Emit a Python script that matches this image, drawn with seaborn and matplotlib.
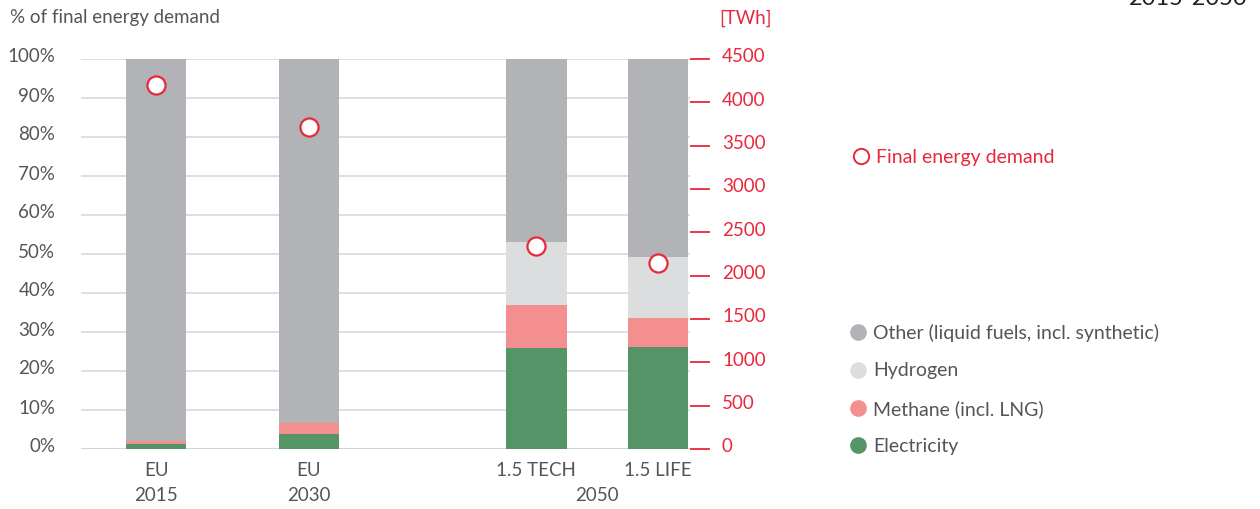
import matplotlib
matplotlib.use("Agg")
import matplotlib.pyplot as plt
import matplotlib.transforms as mtransforms
from matplotlib.lines import Line2D
import seaborn as sns
import pandas as pd
import numpy as np

# ---- data ----
scenarios = ["EU\n2015", "EU\n2030", "1.5 TECH", "1.5 LIFE"]
electricity = [1.4, 3.8, 25.9, 26.2]
methane = [0.6, 2.9, 11.0, 7.4]
hydrogen = [0.0, 0.0, 16.1, 15.6]
other = [98.0, 93.3, 47.0, 50.8]
final_demand_twh = [4200, 3715, 2340, 2145]
pct_ticks = [0, 10, 20, 30, 40, 50, 60, 70, 80, 90, 100]
twh_ticks = [0, 500, 1000, 1500, 2000, 2500, 3000, 3500, 4000, 4500]

# layout positions (non-uniform spacing as in the reference)
positions = [0.0, 1.0, 2.484, 3.281]

GREY = "#b2b3b6"
H2 = "#dcdddf"
CH4 = "#f38f8f"
ELEC = "#549467"
RED = "#e8283c"
TXT = "#555555"
FS = 13.5

sns.set_theme(style="white")
plt.rcParams["font.family"] = ["Lato", "DejaVu Sans"]

fig = plt.figure(figsize=(12.6, 5.09), dpi=100)
W, H = 1260, 509
left, right, bottom, top = 81, 690, 449, 59
ax = fig.add_axes([left / W, 1 - bottom / H, (right - left) / W, (bottom - top) / H])

series = [("Other", other, GREY), ("Hydrogen", hydrogen, H2),
          ("Methane", methane, CH4), ("Electricity", electricity, ELEC)]
stack = np.vstack([electricity, methane, hydrogen, other])
cum = {
    "Electricity": stack[0],
    "Methane": stack[:2].sum(axis=0),
    "Hydrogen": stack[:3].sum(axis=0),
    "Other": stack[:4].sum(axis=0),
}
for name, vals, col in series:
    df = pd.DataFrame({"pos": positions, "val": cum[name]})
    sns.barplot(data=df, x="pos", y="val", native_scale=True, color=col,
                saturation=1, width=0.5, errorbar=None, linewidth=0, ax=ax, zorder=2)

# grid
for t in pct_ticks:
    ax.axhline(t, color="#dcdcdc" if t > 0 else "#cfcfcf", lw=1.3, zorder=1)

x0 = (left - 156) / 153
x1 = (right - 156) / 153
ax.set_xlim(x0, x1)
ax.set_ylim(0, 100)
ax.set_yticks(pct_ticks)
ax.set_yticklabels([f"{t}%" for t in pct_ticks])
ax.tick_params(axis="y", length=0, pad=18.5, labelsize=FS, labelcolor=TXT)
ax.set_xticks([])
ax.set_xlabel("")
ax.set_ylabel("")
for s in ax.spines.values():
    s.set_visible(False)
up = mtransforms.ScaledTranslation(0, 3.5 / 100, fig.dpi_scale_trans)
for lab in ax.get_yticklabels():
    lab.set_transform(lab.get_transform() + up)

# x labels
labels_x = ["EU", "EU", "1.5 TECH", "1.5 LIFE"]
for p, lab in zip(positions, labels_x):
    ax.text(p, -5.6, lab, ha="center", va="center", fontsize=FS, color=TXT)
for p, yr in zip(positions[:2], ["2015", "2030"]):
    ax.text(p, -12.0, yr, ha="center", va="center", fontsize=FS, color=TXT)
ax.text((positions[2] + positions[3]) / 2, -12.0, "2050", ha="center",
        va="center", fontsize=FS, color=TXT)

# right axis
ax2 = ax.twinx()
ax2.set_ylim(0, 4500)
ax2.set_xlim(x0, x1)
sns.scatterplot(x=positions, y=final_demand_twh, ax=ax2, s=170,
                facecolor="white", edgecolor=RED, linewidth=1.6, zorder=5,
                clip_on=False)
ax2.set_yticks(twh_ticks)
ax2.set_yticklabels([str(t) for t in twh_ticks])
ax2.tick_params(axis="y", length=14.4, width=1.3, color=RED, pad=8.6,
                labelsize=FS, labelcolor=RED, direction="out")
ax2.grid(False)
for s in ax2.spines.values():
    s.set_visible(False)
ax2.set_ylabel("")
for lab in ax2.get_yticklabels():
    lab.set_transform(lab.get_transform() + up)

# axis titles
fig.text(10 / W, 1 - 18 / H, "% of final energy demand", ha="left", va="center",
         fontsize=FS, color=TXT)
fig.text(719 / W, 1 - 18 / H, "[TWh]", ha="left", va="center",
         fontsize=FS, color=RED)

# clipped top-right title
fig.text(1247 / W, 1 - 5 / H, "2015-2050", ha="right", va="baseline",
         fontsize=17, color="#222222")

# legends
h_fd = [Line2D([], [], marker="o", ls="", markersize=11, markerfacecolor="white",
               markeredgecolor=RED, markeredgewidth=1.4)]
leg1 = fig.legend(h_fd, ["Final energy demand"], loc="center left",
                  bbox_to_anchor=(853 / W, 1 - 157 / H), frameon=False,
                  fontsize=14, handlelength=0.8, handletextpad=0.4,
                  borderpad=0, borderaxespad=0)
for t in leg1.get_texts():
    t.set_color(RED)

h_cat = [Line2D([], [], marker="o", ls="", markersize=11, markerfacecolor=c,
                markeredgecolor=c) for c in [GREY, H2, CH4, ELEC]]
leg2 = fig.legend(h_cat, ["Other (liquid fuels, incl. synthetic)", "Hydrogen",
                          "Methane (incl. LNG)", "Electricity"],
                  loc="upper left", bbox_to_anchor=(850 / W, 1 - 324 / H),
                  frameon=False, fontsize=14, handlelength=0.8,
                  handletextpad=0.4, labelspacing=1.05, borderpad=0,
                  borderaxespad=0)
for t in leg2.get_texts():
    t.set_color(TXT)

fig.savefig("out.png", dpi=100)
